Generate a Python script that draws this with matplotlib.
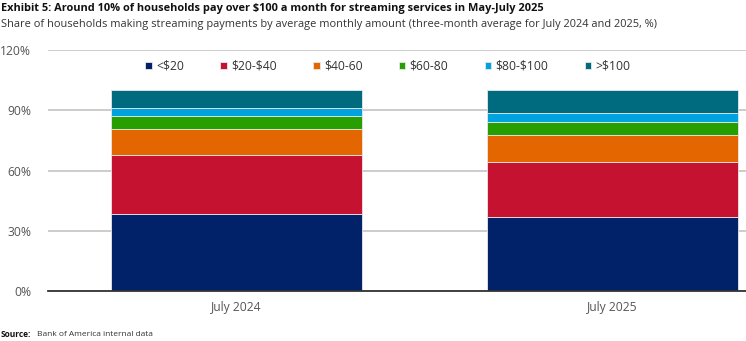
import matplotlib.pyplot as plt
import numpy as np

plt.rcParams['font.family'] = ['Open Sans', 'DejaVu Sans']
plt.rcParams['text.parse_math'] = False

# data
periods = ['July 2024', 'July 2025']
buckets = ['<$20', '$20-$40', '$40-60', '$60-80', '$80-$100', '>$100']
shares = {
    '<$20':     [38.3, 36.9],
    '$20-$40':  [29.4, 27.5],
    '$40-60':   [12.8, 13.1],
    '$60-80':   [6.7, 6.7],
    '$80-$100': [3.8, 4.6],
    '>$100':    [9.0, 11.2],
}
colors = ['#012169', '#C41230', '#E36600', '#279F00', '#00A3E0', '#006A7F']

fig = plt.figure(figsize=(7.46, 3.41), dpi=100)
ax = fig.add_axes([0.0643, 0.1466, 0.9357, 0.7068])

x = np.arange(len(periods))
bottom = np.zeros(len(periods))
for b, c in zip(buckets, colors):
    vals = np.array(shares[b])
    ax.bar(x, vals, bottom=bottom, width=0.668, color=c, edgecolor='#e8e8e8',
           linewidth=0.6, label=b, zorder=3)
    bottom += vals

ax.set_xlim(-0.501, 1.355)
ax.set_ylim(0, 120)
ax.set_yticks([0, 30, 60, 90, 120])
ax.set_yticklabels(['0%', '30%', '60%', '90%', '120%'])
ax.set_xticks(x)
ax.set_xticklabels(periods)
ax.grid(axis='y', color='#c8c8c8', linewidth=1.3, zorder=0)
for s in ['top', 'right', 'left']:
    ax.spines[s].set_visible(False)
ax.spines['bottom'].set_color('#333333')
ax.spines['bottom'].set_linewidth(1.3)
ax.spines['bottom'].set_zorder(4)
ax.tick_params(axis='both', length=0, labelsize=8.7, colors='#555555')
ax.tick_params(axis='y', pad=12)
ax.tick_params(axis='x', pad=7)

leg = ax.legend(loc='center', bbox_to_anchor=(0.487, 0.933), ncol=6, frameon=False,
                fontsize=8.7, handlelength=0.55, handleheight=0.55, handletextpad=0.35,
                columnspacing=3.0, labelcolor='#333333')

fig.text(0.001, 0.975, 'Exhibit 5: Around 10% of households pay over $100 a month for streaming services in May-July 2025',
         fontsize=7.9, fontweight='bold', va='center', ha='left', color='#111111')
fig.text(0.001, 0.928, 'Share of households making streaming payments by average monthly amount (three-month average for July 2024 and 2025, %)',
         fontsize=7.9, va='center', ha='left', color='#333333')
fig.text(0.001, 0.02, 'Source:', fontsize=6.0, fontweight='bold', va='center', ha='left', color='#111111')
fig.text(0.049, 0.02, 'Bank of America internal data', fontsize=6.0, va='center', ha='left', color='#333333')

fig.savefig('out.png', dpi=100)
